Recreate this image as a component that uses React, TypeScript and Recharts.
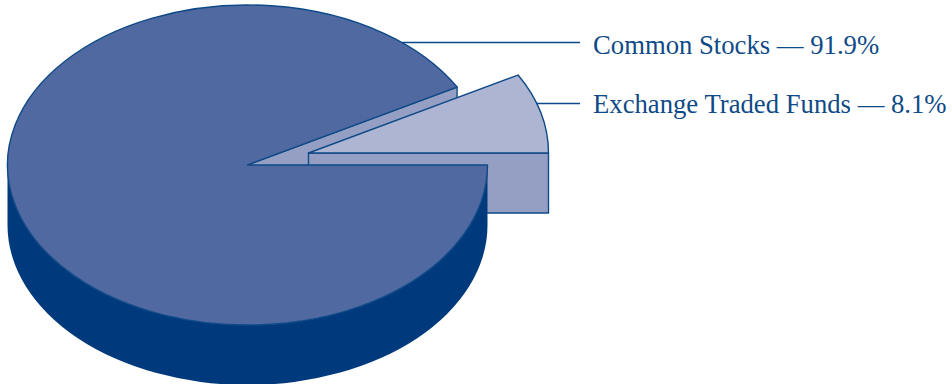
import React from 'react';
import { PieChart, Pie } from 'recharts';

const names = ['Exchange Traded Funds', 'Common Stocks'];
const values = [8.1, 91.9];
const tableData = names.map((name, i) => ({ name, value: values[i] }));

const INK = '#0f4a88';
const TOP_MAIN = '#5069a0';
const TOP_SLICE = '#adb5d3';
const WALL = '#959fc3';
const SIDE = '#003a7c';

const CX = 247.5;
const CY = 165;
const RADIUS = 240;
const SQUASH = 2 / 3;
const DEPTH = 60;
// the small slice is pulled out of the pie by this much
const EXPLODE = { x: 61, y: -12 };

const LEADER_Y = [103.5, 42.5];
const LABEL_BASELINE = [112.7, 53.7];
const LABEL_X = 593;
const LEADER_END = 580;

const rad = (deg: number) => (deg * Math.PI) / 180;
const pt = (cx: number, cy: number, r: number, deg: number) => ({
  x: cx + r * Math.cos(rad(deg)),
  y: cy - r * SQUASH * Math.sin(rad(deg)),
});

const slicePath = (cx: number, cy: number, r: number, a0: number, a1: number) => {
  const p0 = pt(cx, cy, r, a0);
  const p1 = pt(cx, cy, r, a1);
  const large = a1 - a0 > 180 ? 1 : 0;
  return `M${cx},${cy} L${p0.x},${p0.y} A${r},${r * SQUASH} 0 ${large} 0 ${p1.x},${p1.y} Z`;
};

// radial cut face, dropped by DEPTH
const wallPath = (cx: number, cy: number, r: number, a: number) => {
  const p = pt(cx, cy, r, a);
  return `M${cx},${cy} L${p.x},${p.y} L${p.x},${p.y + DEPTH} L${cx},${cy + DEPTH} Z`;
};

// cut face of the big slice goes down first so the small slice can sit over it
const renderWall = (props: any) => {
  if (props.index !== 1) return <g />;
  const { cx, cy, outerRadius, startAngle } = props;
  return <path d={wallPath(cx, cy, outerRadius, startAngle)} fill={WALL} stroke={INK} strokeWidth={1.4} strokeLinejoin="round" />;
};

const renderSlice = (props: any) => {
  const { index, cx, cy, outerRadius: r, startAngle, endAngle } = props;
  if (index === 0) {
    const x = cx + EXPLODE.x;
    const y = cy + EXPLODE.y;
    return (
      <g>
        <path d={wallPath(x, y, r, startAngle)} fill={WALL} stroke={INK} strokeWidth={1.4} strokeLinejoin="round" />
        <path d={slicePath(x, y, r, startAngle, endAngle)} fill={TOP_SLICE} stroke={INK} strokeWidth={1.4} strokeLinejoin="round" />
      </g>
    );
  }
  const ry = r * SQUASH;
  const side = `M${cx - r},${cy} L${cx - r},${cy + DEPTH} A${r},${ry} 0 0 0 ${cx + r},${cy + DEPTH} L${cx + r},${cy} A${r},${ry} 0 0 1 ${cx - r},${cy} Z`;
  return (
    <g>
      <path d={side} fill={SIDE} />
      <path d={slicePath(cx, cy, r, startAngle, endAngle)} fill={TOP_MAIN} stroke={INK} strokeWidth={1.4} strokeLinejoin="round" />
    </g>
  );
};

const renderLabel = (props: any) => {
  const { index } = props;
  const cx = index === 0 ? CX + EXPLODE.x : CX;
  const cy = index === 0 ? CY + EXPLODE.y : CY;
  const lineY = LEADER_Y[index];
  // leader starts where its height meets the elliptical rim
  const t = (cy - lineY) / (RADIUS * SQUASH);
  const rimX = cx + RADIUS * Math.sqrt(1 - t * t);
  return (
    <g key={names[index]}>
      <line x1={rimX} y1={lineY} x2={LEADER_END} y2={lineY} stroke={INK} strokeWidth={1.4} />
      <text x={LABEL_X} y={LABEL_BASELINE[index]} fontFamily="'Liberation Serif', serif" fontSize={26.7} fill={INK}>
        {`${names[index]} — ${values[index]}%`}
      </text>
    </g>
  );
};

export default function App() {
  return (
    <div style={{ position: 'absolute', left: 0, top: 0, width: 952, height: 384, overflow: 'hidden', background: '#fff' }}>
      <PieChart width={952} height={384} margin={{ top: 0, right: 0, bottom: 0, left: 0 }}>
        <Pie
          data={tableData}
          dataKey="value"
          nameKey="name"
          cx={CX}
          cy={CY}
          outerRadius={RADIUS}
          shape={renderWall}
          stroke="none"
          isAnimationActive={false}
        />
        <Pie
          data={tableData}
          dataKey="value"
          nameKey="name"
          cx={CX}
          cy={CY}
          outerRadius={RADIUS}
          shape={renderSlice}
          label={renderLabel}
          labelLine={false}
          isAnimationActive={false}
        />
      </PieChart>
    </div>
  );
}
